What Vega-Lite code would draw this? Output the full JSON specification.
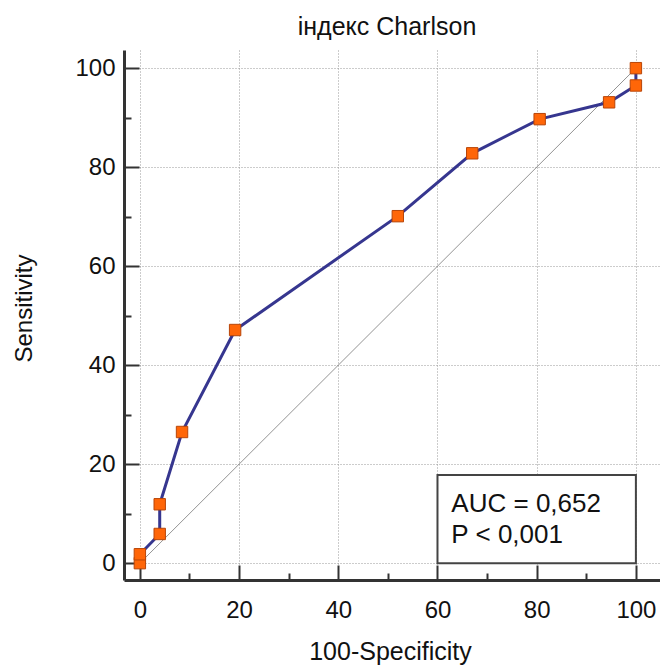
{
  "$schema": "https://vega.github.io/schema/vega-lite/v6.json",
  "width": 536,
  "height": 530,
  "autosize": {"type": "none"},
  "padding": {"left": 124, "top": 50, "right": 0, "bottom": 86},
  "background": "white",
  "config": {
    "font": "Liberation Sans",
    "view": {"stroke": null}
  },
  "title": {
    "text": "індекс Charlson",
    "fontSize": 25,
    "fontWeight": "normal",
    "color": "#111",
    "offset": 10,
    "dx": -5
  },
  "datasets": {
    "roc": [
      {"fpr": 0, "tpr": 0},
      {"fpr": 0, "tpr": 1.8},
      {"fpr": 4, "tpr": 5.9},
      {"fpr": 4, "tpr": 11.9},
      {"fpr": 8.5, "tpr": 26.5},
      {"fpr": 19.2, "tpr": 47.1},
      {"fpr": 52, "tpr": 70.1},
      {"fpr": 67, "tpr": 82.8},
      {"fpr": 80.6, "tpr": 89.7},
      {"fpr": 94.6, "tpr": 93.1},
      {"fpr": 100, "tpr": 96.5},
      {"fpr": 100, "tpr": 100}
    ],
    "diag": [{"fpr": 0, "tpr": 0}, {"fpr": 100, "tpr": 100}],
    "box": [{"x1": 60, "x2": 100, "y1": 0, "y2": 17.8}],
    "stats": [
      {"fpr": 62.8, "tpr": 10.4, "label": "AUC = 0,652"},
      {"fpr": 62.8, "tpr": 4.0, "label": "P < 0,001"}
    ]
  },
  "layer": [
    {
      "data": {"name": "diag"},
      "mark": {"type": "line", "color": "#777", "strokeWidth": 0.8},
      "encoding": {
        "x": {
          "field": "fpr", "type": "quantitative",
          "scale": {"domain": [-3.2, 104.86], "nice": false, "zero": false},
          "axis": {
            "title": "100-Specificity",
            "titleFontSize": 25, "titleFontWeight": "normal", "titleColor": "#111",
            "titleBaseline": "alphabetic", "titleY": 79, "titleX": 266,
            "values": [0,5,10,15,20,25,30,35,40,45,50,55,60,65,70,75,80,85,90,95,100],
            "labelExpr": "datum.value % 20 === 0 ? datum.label : ''",
            "labelFontSize": 24, "labelColor": "#111", "labelPadding": 33,
            "labelFlush": false, "labelOverlap": false,
            "domainColor": "#333", "domainWidth": 3,
            "tickColor": "#333", "tickWidth": 2,
            "tickSize": {"condition": {"test": "datum.value % 20 === 0", "value": -15}, "value": -7},
            "grid": true, "gridColor": "#999", "gridDash": [1, 2], "gridWidth": 1,
            "gridOpacity": {"condition": {"test": "datum.value % 20 === 0", "value": 1}, "value": 0}
          }
        },
        "y": {
          "field": "tpr", "type": "quantitative",
          "scale": {"domain": [-3.4, 103.67], "nice": false, "zero": false},
          "axis": {
            "title": "Sensitivity",
            "titleFontSize": 24, "titleFontWeight": "normal", "titleColor": "#111",
            "titleBaseline": "middle", "titleX": -100, "titleY": 258,
            "values": [0,5,10,15,20,25,30,35,40,45,50,55,60,65,70,75,80,85,90,95,100],
            "labelExpr": "datum.value % 20 === 0 ? datum.label : ''",
            "labelFontSize": 24, "labelColor": "#111", "labelPadding": 24,
            "labelFlush": false, "labelOverlap": false,
            "domainColor": "#333", "domainWidth": 3,
            "tickColor": "#333", "tickWidth": 2,
            "tickSize": {"condition": {"test": "datum.value % 20 === 0", "value": -15}, "value": -7},
            "grid": true, "gridColor": "#999", "gridDash": [1, 2], "gridWidth": 1,
            "gridOpacity": {"condition": {"test": "datum.value % 20 === 0", "value": 1}, "value": 0}
          }
        }
      }
    },
    {
      "data": {"name": "roc"},
      "mark": {"type": "line", "color": "#36368f", "strokeWidth": 3},
      "encoding": {
        "x": {"field": "fpr", "type": "quantitative"},
        "y": {"field": "tpr", "type": "quantitative"},
        "order": {"value": 0}
      }
    },
    {
      "data": {"name": "roc"},
      "mark": {"type": "point", "shape": "square", "size": 130, "filled": true, "color": "#ff6608", "stroke": "#b84508", "strokeWidth": 1, "opacity": 1},
      "encoding": {
        "x": {"field": "fpr", "type": "quantitative"},
        "y": {"field": "tpr", "type": "quantitative"}
      }
    },
    {
      "data": {"name": "box"},
      "mark": {"type": "rect", "fill": "white", "stroke": "#444", "strokeWidth": 2},
      "encoding": {
        "x": {"field": "x1", "type": "quantitative"},
        "x2": {"field": "x2"},
        "y": {"field": "y1", "type": "quantitative"},
        "y2": {"field": "y2"}
      }
    },
    {
      "data": {"name": "stats"},
      "mark": {"type": "text", "align": "left", "baseline": "alphabetic", "fontSize": 26, "color": "#111"},
      "encoding": {
        "x": {"field": "fpr", "type": "quantitative"},
        "y": {"field": "tpr", "type": "quantitative"},
        "text": {"field": "label"}
      }
    }
  ]
}
